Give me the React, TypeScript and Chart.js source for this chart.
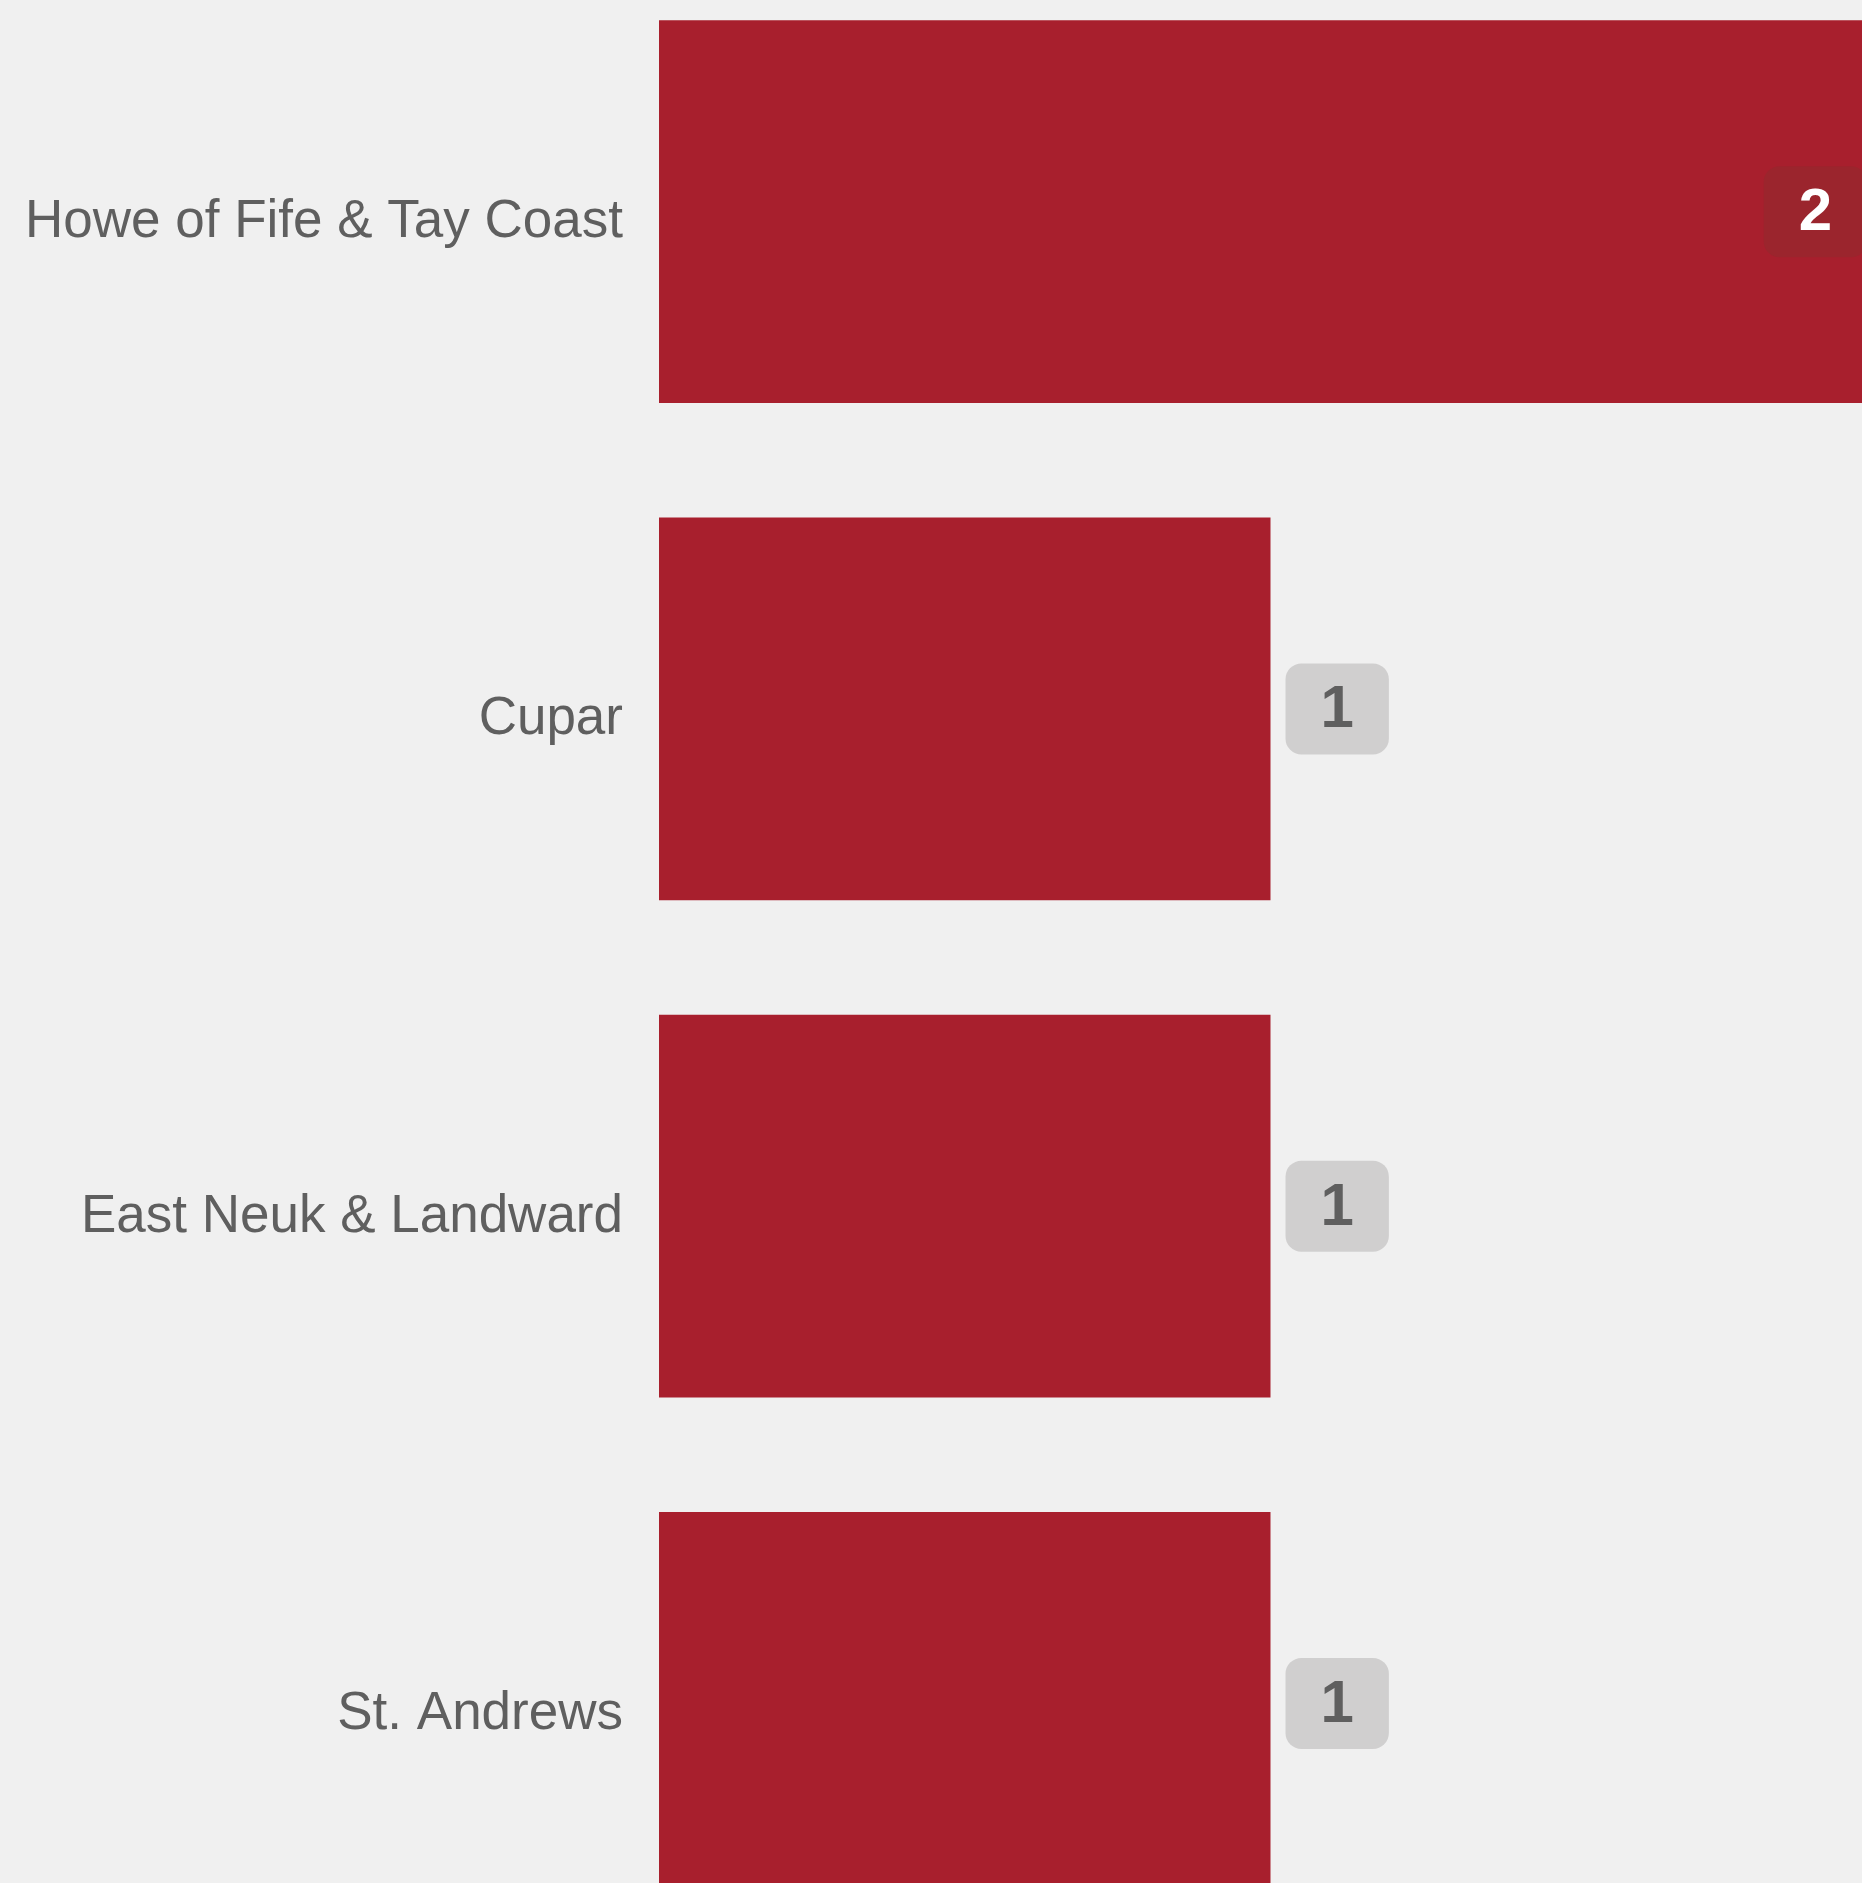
import React, { useEffect, useRef } from "react";
import { Chart, registerables } from "chart.js";

Chart.register(...registerables);

const categories = ["Howe of Fife & Tay Coast", "Cupar", "East Neuk & Landward", "St. Andrews"];
const values = [2, 1, 1, 1];
const xMin = 0;
const xMax = 2;

const BAR_COLOR = "#a81f2d";
const BG = "#f0f0f0";
const LABEL_COLOR = "#5f5f5f";

const badgePlugin = {
  id: "badgeLabels",
  afterDatasetsDraw(chart: any) {
    const ctx = chart.ctx;
    const meta = chart.getDatasetMeta(0);
    const area = chart.chartArea;
    ctx.save();
    ctx.font = "bold 60px 'Liberation Sans', Arial, sans-serif";
    meta.data.forEach((bar: any, i: number) => {
      const text = String(values[i]);
      const tw = ctx.measureText(text).width;
      const w = tw + 70;
      const h = 91;
      const gap = 15;
      let x = bar.x + gap;
      let inside = false;
      if (x + w > area.right) {
        x = bar.x - gap - w;
        inside = true;
      }
      const y = bar.y - h / 2;
      ctx.beginPath();
      ctx.roundRect(x, y, w, h, 16);
      ctx.fillStyle = inside ? "#9b252d" : "#d0cfcf";
      ctx.fill();
      ctx.fillStyle = inside ? "#ffffff" : LABEL_COLOR;
      ctx.textAlign = "center";
      ctx.textBaseline = "middle";
      ctx.fillText(text, x + w / 2, bar.y + 2);
    });
    ctx.restore();
  },
};

export default function App() {
  const ref = useRef<HTMLCanvasElement | null>(null);

  useEffect(() => {
    document.body.style.margin = "0";
    document.body.style.background = BG;
    const canvas = ref.current;
    if (!canvas) return;
    const chart = new Chart(canvas, {
      type: "bar",
      data: {
        labels: categories,
        datasets: [
          {
            data: values,
            backgroundColor: BAR_COLOR,
            borderWidth: 0,
            categoryPercentage: 1,
            barPercentage: 0.77,
          },
        ],
      },
      options: {
        indexAxis: "y",
        responsive: true,
        maintainAspectRatio: false,
        animation: false,
        devicePixelRatio: 1,
        layout: { padding: { top: 0, bottom: 0, left: 0, right: 8 } },
        plugins: {
          legend: { display: false },
          tooltip: { enabled: false },
        },
        scales: {
          x: {
            display: false,
            min: xMin,
            max: xMax,
          },
          y: {
            grid: { display: false, drawTicks: false },
            border: { display: false },
            ticks: {
              padding: 36,
              labelOffset: 11,
              color: LABEL_COLOR,
              font: { family: "'Liberation Sans', Arial, sans-serif", size: 53 },
            },
            afterFit(scale: any) {
              scale.width = 659;
              scale.paddingTop = 0;
              scale.paddingBottom = 0;
            },
          },
        },
      },
      plugins: [badgePlugin],
    });
    return () => chart.destroy();
  }, []);

  return (
    <div style={{ position: "relative", width: 1862, height: 1883, background: BG, overflow: "hidden" }}>
      <div style={{ position: "absolute", left: 0, top: -37, width: 1890, height: 1989 }}>
        <canvas ref={ref} />
      </div>
    </div>
  );
}
